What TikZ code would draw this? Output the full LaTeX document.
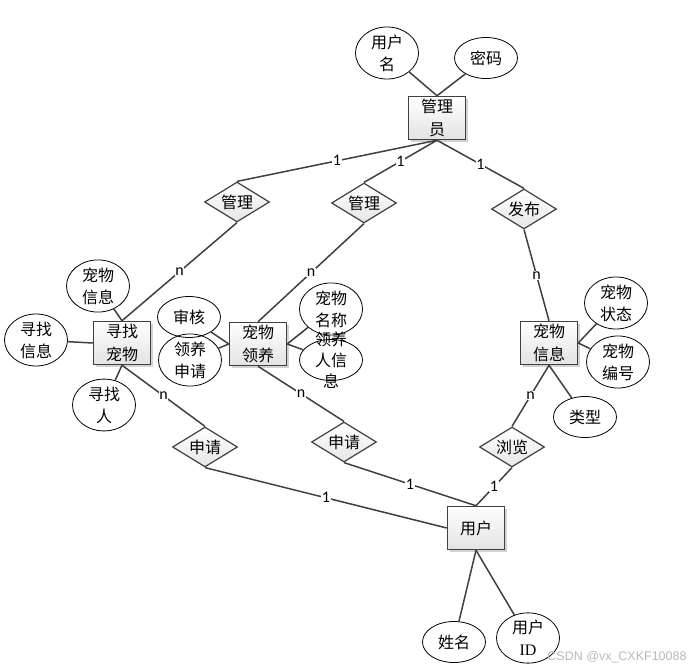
\documentclass[tikz,border=0pt]{standalone}
\usepackage{fontspec}
\newfontfamily\cjk{Noto Sans CJK SC}
\newfontfamily\lab{Carlito}
\newfontfamily\wmfont{Liberation Sans}
\newfontfamily\serifid{Liberation Serif}
\usetikzlibrary{shapes.geometric,shadows}
\definecolor{ln}{HTML}{404040}
\begin{document}
\begin{tikzpicture}[x=1pt,y=-1pt,
 ent/.style={rectangle, draw=ln, line width=1.5pt, top color=white, bottom color=gray!22,
   minimum width=57pt, minimum height=43pt, inner sep=0pt, align=center,
   font=\cjk\fontsize{16}{23}\selectfont,
   drop shadow={shadow xshift=2.5pt, shadow yshift=-2.5pt, opacity=0.35, fill=gray}},
 attr/.style={ellipse, draw=black, line width=0.8pt, minimum width=63pt,
   minimum height=41pt, inner sep=0pt, align=center, font=\cjk\fontsize{16}{22}\selectfont},
 rel/.style={diamond, aspect=1.625, draw=ln, line width=1.2pt, top color=white,
   bottom color=gray!20, minimum width=65pt, minimum height=40pt, inner sep=0pt,
   font=\cjk\fontsize{16}{18}\selectfont},
 conn/.style={draw=ln, line width=1.5pt},
 card/.style={fill=white, inner sep=0.6pt, font=\lab\fontsize{16}{16}\selectfont}
]
\fill[white] (0,0) rectangle (693,671);
\useasboundingbox (0,0) rectangle (693,671);

% entities
\node[ent] (adm) at (437,118) {管理\\员};
\node[ent] (find) at (122,343) {寻找\\宠物};
\node[ent] (adopt) at (258,344) {宠物\\领养};
\node[ent] (pet) at (549,343) {宠物\\信息};
\node[ent] (user) at (476,528) {用户};

% relations
\node[rel] (r1) at (237,202) {管理};
\node[rel] (r2) at (364,203) {管理};
\node[rel] (r3) at (524,209) {发布};
\node[rel] (s1) at (205,447) {申请};
\node[rel] (s2) at (344,442) {申请};
\node[rel] (s3) at (512,447) {浏览};

% attributes
\node[attr] (un) at (387,53) {用户\\名};
\node[attr] (pw) at (486,58) {密码};
\node[attr] (a1) at (98,286) {宠物\\信息};
\node[attr] (a2) at (36,340) {寻找\\信息};
\node[attr] (a3) at (104,405) {寻找\\人};
\node[attr] (a4) at (189,317) {审核};
\node[attr] (a5) at (190,360) {领养\\申请};
\node[attr] (a6) at (331,309) {宠物\\名称};
\node[attr, label={[align=center, inner sep=0pt, font=\cjk\fontsize{16}{21}\selectfont]center:领养\\人信\\息}] (a7) at (331,360) {};
\node[attr] (a8) at (616,303) {宠物\\状态};
\node[attr] (a9) at (618,362) {宠物\\编号};
\node[attr] (a10) at (585,417) {类型};
\node[attr] (a11) at (454,642) {姓名};
\node[attr] (a12) at (528,638) {用户\\{\serifid ID}};

% attribute links
\draw[conn] (un) -- (adm.north);
\draw[conn] (pw) -- (adm.north);
\draw[conn] (a1) -- (find.north);
\draw[conn] (a2) -- (find.west);
\draw[conn] (a3) -- (find.south);
\draw[conn] (a4) -- (adopt.west);
\draw[conn] (a5) -- (adopt.west);
\draw[conn] (a6) -- (adopt.east);
\draw[conn] (a7) -- (adopt.east);
\draw[conn] (a8) -- (pet.east);
\draw[conn] (a9) -- (pet.east);
\draw[conn] (a10) -- (pet.south);
\draw[conn] (user.south) -- (a11);
\draw[conn] (user.south) -- (a12);

% relationship links
\draw[conn] (adm.south) -- node[card]{1} (r1.north);
\draw[conn] (adm.south) -- node[card]{1} (r2.north);
\draw[conn] (adm.south) -- node[card]{1} (r3.north);
\draw[conn] (r1.south) -- node[card]{n} (find.north);
\draw[conn] (r2.south) -- node[card]{n} (adopt.north);
\draw[conn] (r3.south) -- node[card]{n} (pet.north);
\draw[conn] (find.south) -- node[card]{n} (s1.north);
\draw[conn] (adopt.south) -- node[card]{n} (s2.north);
\draw[conn] (pet.south) -- node[card]{n} (s3.north);
\draw[conn] (s1.south) -- node[card]{1} (user.west);
\draw[conn] (s2.south) -- node[card]{1} (user.north);
\draw[conn] (s3.south) -- node[card]{1} (user.north);

% watermark
\node[font=\wmfont\fontsize{12.5}{13}\selectfont, text=gray!55, inner sep=0pt] (wm) at (617,657) {CSDN @vx\_CXKF10088};
\end{tikzpicture}
\end{document}
